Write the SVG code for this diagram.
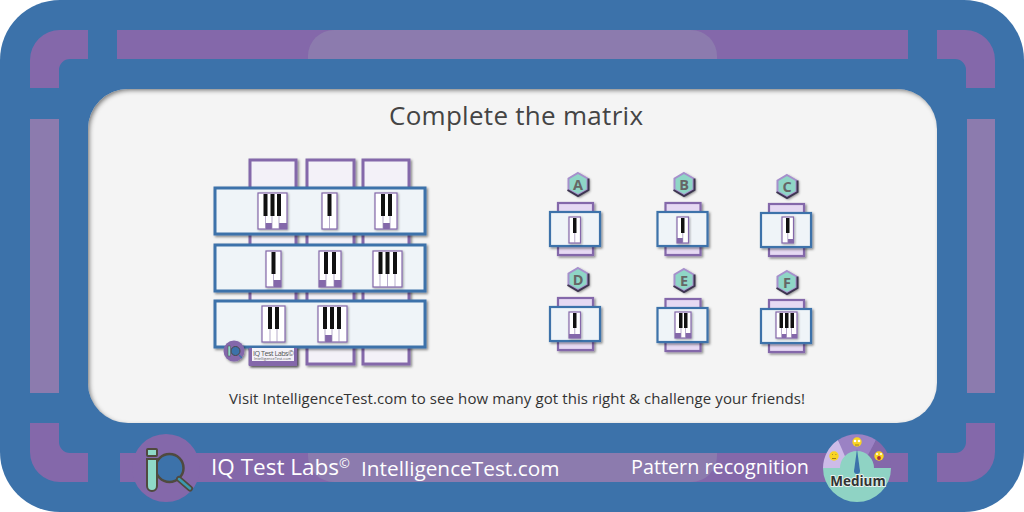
<svg xmlns="http://www.w3.org/2000/svg" width="1024" height="512" viewBox="0 0 1024 512">
<style>
text{font-family:"Open Sans","Noto Sans",sans-serif}
.p{fill:#8468aa}.l{fill:#8c7bae}
.row{fill:#eff4f8;stroke:#3c72aa;stroke-width:3;filter:url(#sh)}
.col{fill:#f3f1f8;stroke:#8468aa;stroke-width:3;filter:url(#sh)}
.ocol{fill:#e6d9f3;stroke:#8468aa;stroke-width:2.2;filter:url(#sh)}
.orow{fill:#eff4f8;stroke:#3c72aa;stroke-width:2.2;filter:url(#sh)}
.key{fill:#fff;stroke:#8468aa;stroke-width:1.2;filter:url(#sh2)}
.w{stroke:#9a8ab5;stroke-width:.7;fill:none}
.b{fill:#111}.m{fill:#8468aa}
.hex{fill:#8fd6c6;stroke:#a690cc;stroke-width:2;filter:url(#sh)}
.hd{fill:none;stroke:#3d3550;stroke-width:2}
.ht{font-size:14.5px;font-weight:700;fill:#666;text-anchor:middle}
.face{fill:#f9d423}
.fd{fill:none;stroke:#7a5a20;stroke-width:.7}
</style>
<defs>
<filter id="sh" x="-20%" y="-20%" width="150%" height="150%"><feDropShadow dx="1.5" dy="1.5" stdDeviation="1.2" flood-color="#000" flood-opacity=".45"/></filter>
<filter id="sh2" x="-20%" y="-20%" width="150%" height="150%"><feDropShadow dx="1" dy="1" stdDeviation=".8" flood-color="#000" flood-opacity=".35"/></filter>
<filter id="ins" x="-2%" y="-2%" width="104%" height="104%">
<feGaussianBlur in="SourceAlpha" stdDeviation="2" result="b"/>
<feOffset in="b" dx="1.500" dy="2" result="o"/>
<feComposite in="SourceAlpha" in2="o" operator="out" result="i"/>
<feFlood flood-color="#222" flood-opacity=".8"/>
<feComposite in2="i" operator="in" result="s"/>
<feMerge><feMergeNode in="SourceGraphic"/><feMergeNode in="s"/></feMerge>
</filter>
<polygon id="hx" points="0,-11 9.5,-5.5 9.5,5.5 0,11 -9.5,5.5 -9.5,-5.5"/>
<path id="hl" d="M10.500 -5.500V6L0 12L-10.500 6"/>
</defs>
<rect id="frame" width="1024" height="512" rx="60" fill="#3c72aa"/>
<g id="bars">
<path class="p" d="M30 88V60a30 30 0 0 1 30-30H88V59H70a11 11 0 0 0-11 11V88Z"/>
<rect class="p" x="117" y="30" width="791" height="29"/>
<path class="p" d="M995 88V60a30 30 0 0 0-30-30H937V59H955a11 11 0 0 1 11 11V88Z"/>
<path class="p" d="M30 423V452a30 30 0 0 0 30 30H88V453H70a11 11 0 0 1-11-11V423Z"/>
<path class="p" d="M995 423V452a30 30 0 0 1-30 30H937V453H955a11 11 0 0 0 11-11V423Z"/>
<rect class="p" x="120" y="453" width="788" height="29"/>
<rect class="l" x="30" y="119" width="29" height="274"/>
<rect class="l" x="967" y="119" width="28" height="274"/>
<path class="l" d="M308 59V56a26 26 0 0 1 26-26H691a26 26 0 0 1 26 26V59Z"/>
<path class="l" d="M308 453V456a26 26 0 0 0 26 26H691a26 26 0 0 0 26-26V453Z"/>
</g>
<rect id="panel" x="88" y="89" width="849" height="334" rx="40" fill="#f4f4f4" filter="url(#ins)"/>
<text x="389" y="125" font-size="26" fill="#444" textLength="254">Complete the matrix</text>
<text x="229" y="404" font-size="15" fill="#333" textLength="576">Visit IntelligenceTest.com to see how many got this right &amp; challenge your friends!</text>

<g id="matrix-columns">
<rect class="col" x="250" y="160" width="46" height="204"/>
<rect class="col" x="307" y="160" width="47" height="204"/>
<rect class="col" x="363" y="160" width="46" height="204"/>
</g>
<g id="matrix-rows">
<rect class="row" x="215" y="188" width="210" height="46"/>
<rect class="row" x="215" y="245" width="210" height="46"/>
<rect class="row" x="215" y="301" width="210" height="46"/>
</g>
<g id="cell-1-1"><rect class="key" x="258" y="193" width="29" height="36"/><path class="m" d="M265.500 223h6.500v6h-6.500zM279 223h8v6h-8z"/><path class="w" d="M265.500 216v13M272 216v13M279 216v13"/><path class="b" d="M263.500 194h4v22h-4zM270.500 194h4v22h-4zM277 194h4v22h-4z"/></g>
<g id="cell-1-2"><rect class="key" x="322" y="193" width="15" height="36"/><path class="w" d="M329.500 216v13"/><path class="b" d="M327.500 194h4v22h-4z"/></g>
<g id="cell-1-3"><rect class="key" x="375" y="193" width="22" height="36"/><path class="m" d="M383 223h7v6h-7z"/><path class="w" d="M383 216v13M390 216v13"/><path class="b" d="M381 194h4v22h-4zM388 194h4v22h-4z"/></g>
<g id="cell-2-1"><rect class="key" x="266" y="251" width="15" height="36"/><path class="m" d="M273.500 280h7.500v7h-7.500z"/><path class="w" d="M273.500 274v13"/><path class="b" d="M271.500 252h4v22h-4z"/></g>
<g id="cell-2-2"><rect class="key" x="319" y="251" width="22" height="36"/><path class="m" d="M319 280h7v7h-7zM334 280h7v7h-7z"/><path class="w" d="M326 274v13M334 274v13"/><path class="b" d="M324 252h4v22h-4zM332 252h4v22h-4z"/></g>
<g id="cell-2-3"><rect class="key" x="373" y="251" width="29" height="36"/><path class="w" d="M380 274v13M387.500 274v13M395 274v13"/><path class="b" d="M378.500 252h4v22h-4zM385.500 252h4v22h-4zM393 252h4v22h-4z"/></g>
<g id="cell-3-1"><rect class="key" x="262" y="306" width="23" height="36"/><path class="w" d="M270 329v13M277 329v13"/><path class="b" d="M268 307h4v22h-4zM275 307h4v22h-4z"/></g>
<g id="cell-3-2"><rect class="key" x="318" y="306" width="29" height="36"/><path class="m" d="M325 335h7v7h-7z"/><path class="w" d="M325 329v13M332 329v13M339 329v13"/><path class="b" d="M323 307h4v22h-4zM330 307h4v22h-4zM337 307h4v22h-4z"/></g>
<g id="watermark">
<rect x="249" y="348" width="48" height="18" fill="#8468aa" filter="url(#sh)"/>
<rect x="252" y="348" width="42" height="13" fill="#f3f1f8"/>
<text x="253" y="355.500" font-size="7.200" fill="#555" textLength="41">IQ Test Labs©</text>
<text x="254" y="360" font-size="3.800" fill="#555" textLength="37">IntelligenceTest.com</text>
<circle cx="234" cy="351" r="10.500" fill="#8468aa" filter="url(#sh)"/>
<circle cx="235.500" cy="351" r="4.500" fill="#3c72aa" stroke="#4a4a4a" stroke-width="1"/>
<rect x="228" y="346" width="2.500" height="10" fill="#8fd6c6" stroke="#4a4a4a" stroke-width=".5"/>
<path d="M239 355l3 3" stroke="#3c72aa" stroke-width="1.500"/>
</g>

<g id="option-A"><use href="#hx" class="hex" x="578" y="184"/><use href="#hl" class="hd" x="578" y="184"/><text class="ht" x="578" y="189.500">A</text>
<rect class="ocol" x="558" y="203" width="35" height="52"/><rect class="orow" x="550" y="212" width="50" height="34"/>
<rect class="key" x="569" y="217" width="11.500" height="26"/><path class="w" d="M574.750 233v10"/><path class="b" d="M573 218h3.500v15h-3.500z"/></g>
<g id="option-B"><use href="#hx" class="hex" x="684" y="184"/><use href="#hl" class="hd" x="684" y="184"/><text class="ht" x="684" y="189.500">B</text>
<rect class="ocol" x="665.500" y="203" width="35" height="52"/><rect class="orow" x="657.500" y="212" width="50" height="34"/>
<rect class="key" x="677" y="217" width="11.500" height="26"/><path class="m" d="M677 238h6v5h-6z"/><path class="w" d="M682.750 233v10"/><path class="b" d="M681 218h3.500v15h-3.500z"/></g>
<g id="option-C"><use href="#hx" class="hex" x="787" y="186"/><use href="#hl" class="hd" x="787" y="186"/><text class="ht" x="787" y="191.500">C</text>
<rect class="ocol" x="769" y="204" width="35" height="52"/><rect class="orow" x="761" y="213" width="50" height="34"/>
<rect class="key" x="782" y="217" width="11.500" height="26"/><path class="m" d="M788 239h5.500v4h-5.500z"/><path class="w" d="M787.750 233v10"/><path class="b" d="M786 218h3.500v15h-3.500z"/></g>
<g id="option-D"><use href="#hx" class="hex" x="578" y="279"/><use href="#hl" class="hd" x="578" y="279"/><text class="ht" x="578" y="284.500">D</text>
<rect class="ocol" x="558" y="298" width="35" height="52"/><rect class="orow" x="550" y="307" width="50" height="34"/>
<rect class="key" x="569" y="312" width="11.500" height="26"/><path class="m" d="M569 334h11.500v4h-11.500z"/><path class="w" d="M574.750 328v6"/><path class="b" d="M573 313h3.500v15h-3.500z"/></g>
<g id="option-E"><use href="#hx" class="hex" x="684" y="280"/><use href="#hl" class="hd" x="684" y="280"/><text class="ht" x="684" y="285.500">E</text>
<rect class="ocol" x="665.500" y="299" width="35" height="52"/><rect class="orow" x="657.500" y="308" width="50" height="34"/>
<rect class="key" x="675" y="312" width="16" height="26"/><path class="m" d="M675 333h6v5h-6zM685.500 333h5.500v5h-5.500z"/><path class="w" d="M681 328v10M685.500 328v10"/><path class="b" d="M679 313h3.500v15h-3.500zM684 313h3.500v15h-3.500z"/></g>
<g id="option-F"><use href="#hx" class="hex" x="787" y="282"/><use href="#hl" class="hd" x="787" y="282"/><text class="ht" x="787" y="287.500">F</text>
<rect class="ocol" x="769" y="300" width="35" height="52"/><rect class="orow" x="761" y="309" width="50" height="34"/>
<rect class="key" x="776" y="312" width="21" height="26"/><path class="m" d="M782 334h4.500v4h-4.500zM791.500 334h5.500v4h-5.500z"/><path class="w" d="M781.500 328v10M786.500 328v10M791.500 328v10"/><path class="b" d="M779.500 313h3.500v15h-3.500zM785 313h3.500v15h-3.500zM790.500 313h3.500v15h-3.500z"/></g>

<g id="logo">
<circle cx="166" cy="468" r="34" fill="#8468aa"/>
<circle cx="169.500" cy="468" r="14" fill="#3c72aa" stroke="#4f4a3f" stroke-width="2.500"/>
<path d="M179 479l11 9.500" stroke="#4f4a3f" stroke-width="6" stroke-linecap="round"/>
<path d="M179 479l11 9.500" stroke="#3c9ab0" stroke-width="2.500" stroke-linecap="round"/>
<rect x="147" y="449" width="10" height="7" rx="1" fill="#8fd9c8" stroke="#4f4a3f" stroke-width="2"/>
<path d="M147 459h10v27a5 5 0 0 1-10 0Z" fill="#8fd9c8" stroke="#4f4a3f" stroke-width="2"/>
</g>
<text x="211" y="475" font-size="22.500" fill="#fff">IQ Test Labs<tspan font-size="13" dy="-7">©</tspan></text>
<text x="361" y="476" font-size="20.800" fill="#fff">IntelligenceTest.com</text>
<text x="631" y="474" font-size="19.800" fill="#fff">Pattern recognition</text>
<g id="gauge">
<path d="M823 468a34 34 0 0 1 15-28l16 28Z" fill="#cdbbe8"/>
<path d="M838 440a34 34 0 0 1 38 0l-12 28h-14Z" fill="#9b82c4"/>
<path d="M876 440a34 34 0 0 1 15 28h-30Z" fill="#8468aa"/>
<path d="M823 468h17a17 17 0 0 1 34 0h17a34 34 0 0 1-68 0Z" fill="#8fd3c4"/>
<path d="M857 449l3 22a3 3 0 0 1-6 0Z" fill="#3c72aa"/>
<circle class="face" cx="834" cy="456" r="4.700"/><path class="fd" d="M832 458.500h4M832 454.500h.8M835.500 454.500h.8"/>
<circle class="face" cx="857" cy="442" r="4.700"/><path class="fd" d="M855 445h4"/><circle cx="855" cy="441" r="1.300" fill="#fff"/><circle cx="859" cy="441" r="1.300" fill="#fff"/>
<circle class="face" cx="879" cy="456" r="4.700"/><circle cx="879" cy="458" r="1.900" fill="#a33"/><circle cx="877" cy="454" r="1" fill="#fff"/><circle cx="881" cy="454" r="1" fill="#fff"/>
<text x="858" y="485.500" font-size="13.500" font-weight="700" fill="#333" stroke="#e8f3f0" stroke-width="1.800" paint-order="stroke" text-anchor="middle">Medium</text>
</g>
</svg>
